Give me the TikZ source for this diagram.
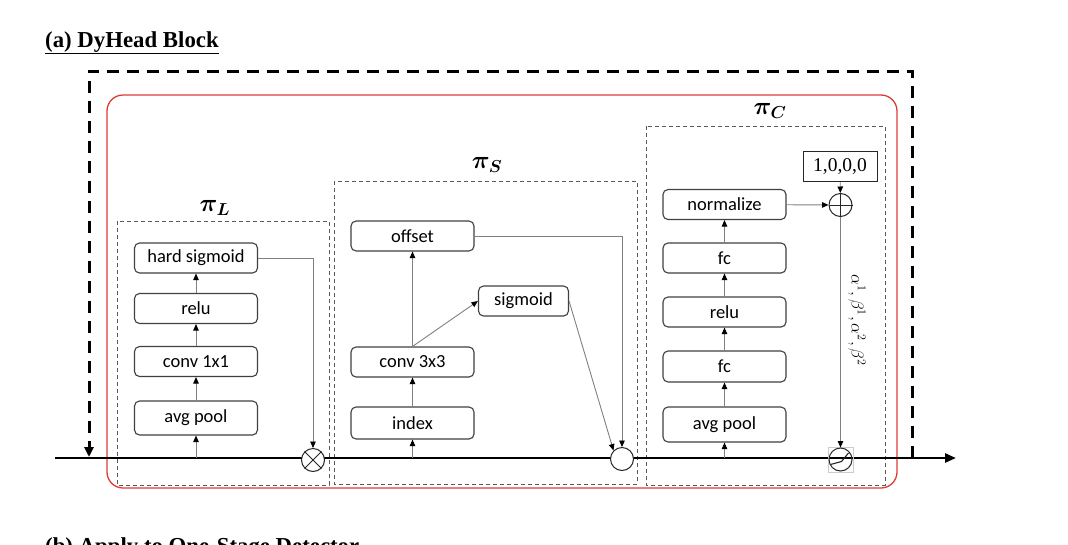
\documentclass[tikz,border=0pt]{standalone}
\usepackage{fontspec}
\usepackage{bm}
\setmainfont{Liberation Serif}
\newfontfamily\boxfont{Carlito}
\usetikzlibrary{arrows.meta,calc}
\definecolor{framered}{HTML}{DD3C35}

\begin{document}
\begin{tikzpicture}[x=1pt,y=-1pt,
  blk/.style={draw=black!75, line width=1.1pt, rounded corners=5pt,
    minimum width=123pt, minimum height=30pt, inner sep=0pt, fill=white,
    font=\boxfont\fontsize{18.5}{21}\selectfont},
  grp/.style={draw=black!65, line width=1pt, dash pattern=on 4pt off 3pt},
  link/.style={draw=black!50, line width=0.9pt,
    -{Triangle[length=6.5pt,width=5.5pt,color=black]}},
  opc/.style={circle, draw=black!85, line width=1pt, fill=white,
    minimum size=23pt, inner sep=0pt},
  ttl/.style={font=\bfseries\fontsize{22.8}{26}\selectfont, anchor=base west, inner sep=0pt},
  grk/.style={font=\fontsize{27}{30}\selectfont, inner sep=0pt}
]
\useasboundingbox (0,0) rectangle (1068,544);

% heading
\node[ttl] (titlea) at (45,47) {\underline{(a) DyHead Block}};

% red block outline
\draw[framered, line width=1.3pt, rounded corners=16pt] (107,95) rectangle (897,488);

% group frames
\draw[grp] (117,221) rectangle (329,485);
\draw[grp] (334,181) rectangle (637,484);
\draw[grp] (646,126) rectangle (885,485);

\node[grk] (piL) at (215,208) {$\bm{\pi_L}$};
\node[grk] (piS) at (487,165) {$\bm{\pi_S}$};
\node[grk] (piC) at (770,111) {$\bm{\pi_C}$};

% main feature path
\coordinate (lstart) at (55,458);
\coordinate (lend) at (956,458);
\draw[line width=2.5pt, -{Triangle[length=11pt,width=9pt]}] (lstart) -- (lend);

% residual skip
\coordinate (skipA) at (912,458);
\coordinate (skipB) at (912,71);
\coordinate (skipC) at (89,71);
\coordinate (skipD) at (89,457);
\draw[line width=3pt, dash pattern=on 12pt off 8pt, -{Triangle[length=10pt,width=9pt]}]
  (skipA) -- (skipB) -- (skipC) -- (skipD);

% scale-aware attention
\node[blk] (hs)   at (196,258)   {hard sigmoid};
\node[blk] (reL)  at (196,308.5) {relu};
\node[blk] (c11)  at (196,361.5) {conv 1x1};
\node[blk, minimum height=34pt] (apL) at (196,418) {avg pool};
\coordinate (tapL) at (196,458);
\node[opc] (ot) at (313,460) {};
\draw[black!85, line width=1pt] (ot.45) -- (ot.225) (ot.135) -- (ot.315);

\draw[link] (tapL) -- (apL);
\draw[link] (apL) -- (c11);
\draw[link] (c11) -- (reL);
\draw[link] (reL) -- (hs);
\draw[link] (hs.east) -| (ot.north);

% spatial-aware attention
\node[blk] (off) at (412.5,236) {offset};
\node[blk] (c33) at (412.5,362) {conv 3x3};
\node[blk, minimum height=32pt] (idx) at (412.5,423) {index};
\node[blk, minimum width=90pt] (sig) at (523.5,301) {sigmoid};
\coordinate (tapS) at (412.5,458);
\node[opc] (mid) at (622,459) {};

\draw[link] (tapS) -- (idx);
\draw[link] (idx) -- (c33);
\draw[link] (c33.north) -- (off.south);
\draw[link] (c33.north) -- (sig.west);
\draw[link] (off.east) -| (mid.north);
\draw[link] (sig.east) -- (mid.north west);

% task-aware attention
\node[blk] (nrm) at (724.5,204.5) {normalize};
\node[blk] (fc2) at (724.5,258)   {fc};
\node[blk] (reC) at (724.5,312)   {relu};
\node[blk, minimum height=31pt] (fc1) at (724.5,366.5) {fc};
\node[blk, minimum height=35pt] (apC) at (724.5,424.5) {avg pool};
\coordinate (tapC) at (724.5,458);
\node[draw=black!85, line width=1pt, minimum width=74pt, minimum height=30pt, inner sep=0pt,
  font=\fontsize{19.5}{22}\selectfont] (init) at (840,166.5) {1,0,0,0};
\node[opc] (op) at (840.5,205) {};
\draw[black!85, line width=1pt] (op.north) -- (op.south) (op.east) -- (op.west);
\node[draw=black!20, line width=0.8pt, minimum size=25pt, inner sep=0pt] (rampbox) at (840.5,459.5) {};
\node[opc, fill=none] (ramp) at (840.5,459.5) {};
\draw[black!85, line width=1.1pt] ($(ramp)+(-10,5)$) -- ($(ramp)+(1,2)$) -- ($(ramp)+(8,-6.5)$);

\draw[link] (tapC) -- (apC);
\draw[link] (apC) -- (fc1);
\draw[link] (fc1) -- (reC);
\draw[link] (reC) -- (fc2);
\draw[link] (fc2) -- (nrm);
\draw[link] (nrm) -- (op);
\draw[link] (init) -- (op);
\draw[link] (op) -- (ramp);
\node[rotate=-90, font=\fontsize{17.5}{20}\selectfont, inner sep=0pt] (coef) at (857,320)
  {$\alpha^1,\beta^1,\alpha^2,\beta^2$};

% next heading, cut by the page edge
\begin{scope}
  \clip (0,0) rectangle (1068,544);
  \node[ttl] (titleb) at (45,553) {(b) Apply to One-Stage Detector};
\end{scope}
\end{tikzpicture}
\end{document}
